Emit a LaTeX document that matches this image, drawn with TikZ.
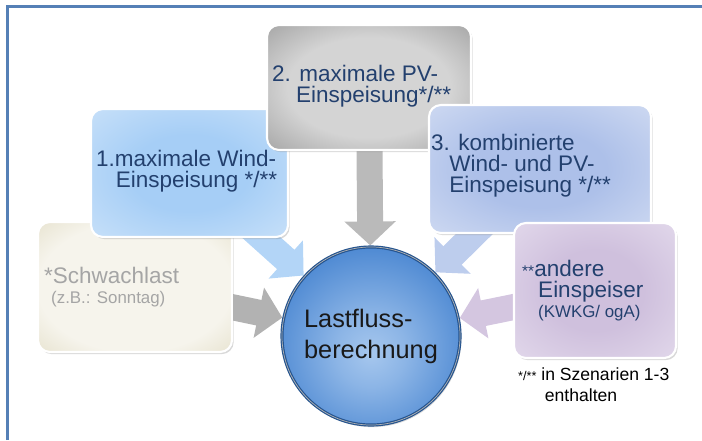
\documentclass[tikz,border=0pt]{standalone}
\usepackage{fontspec}
\setmainfont{Liberation Sans}
\usetikzlibrary{arrows.meta}
\usetikzlibrary{shadows}
\usetikzlibrary{backgrounds}
\definecolor{mframe}{HTML}{5580B6}
\definecolor{mtext}{HTML}{23406E}
\definecolor{mgraytext}{HTML}{A5A5A5}
\definecolor{mwindin}{HTML}{A6CEF6}
\definecolor{mwindout}{HTML}{DDECFB}
\definecolor{mpvin}{HTML}{D4D4D4}
\definecolor{mpvout}{HTML}{7C7C7C}
\definecolor{mcombiin}{HTML}{ADC0E9}
\definecolor{mcombiout}{HTML}{E4EAF7}
\definecolor{mlowin}{HTML}{F6F4EC}
\definecolor{mlowout}{HTML}{D5CEAD}
\definecolor{motherin}{HTML}{CFC0DD}
\definecolor{motherout}{HTML}{EEE8F4}
\definecolor{mhubin}{HTML}{A6C7EE}
\definecolor{mhubmid}{HTML}{4F8AD3}
\definecolor{mhubout}{HTML}{3069B7}
\definecolor{mhubrim}{HTML}{25548F}
\pgfdeclareradialshading{windglow}{\pgfpoint{0bp}{0bp}}{color(0bp)=(mwindin); color(15bp)=(mwindin); color(50bp)=(mwindout); color(72bp)=(mwindout)}
\pgfdeclareradialshading{pvglow}{\pgfpoint{0bp}{0bp}}{color(0bp)=(mpvin); color(20bp)=(mpvin); color(50bp)=(mpvout); color(72bp)=(mpvout)}
\pgfdeclareradialshading{combiglow}{\pgfpoint{0bp}{0bp}}{color(0bp)=(mcombiin); color(15bp)=(mcombiin); color(50bp)=(mcombiout); color(72bp)=(mcombiout)}
\pgfdeclareradialshading{lowglow}{\pgfpoint{0bp}{0bp}}{color(0bp)=(mlowin); color(25bp)=(mlowin); color(50bp)=(mlowout); color(72bp)=(mlowout)}
\pgfdeclareradialshading{otherglow}{\pgfpoint{0bp}{0bp}}{color(0bp)=(motherin); color(15bp)=(motherin); color(50bp)=(motherout); color(72bp)=(motherout)}
\pgfdeclareradialshading{hubglow}{\pgfpoint{0bp}{-5bp}}{color(0bp)=(mhubin); color(10bp)=(mhubin!70!mhubmid); color(28bp)=(mhubmid); color(44bp)=(mhubout); color(49bp)=(mhubout!80!mhubrim); color(50bp)=(mhubrim); color(72bp)=(mhubrim)}
\tikzset{box/.style = {rounded corners = 0.3cm, draw = white, line width = 1.5pt,
    drop shadow = {opacity = 0.3, shadow xshift = 1.2pt, shadow yshift = -1.5pt}}}
\tikzset{txt/.style = {anchor = west, align = left, inner sep = 0, text = mtext,
    font = \fontsize{16}{15}\selectfont}}
\tikzset{fat/.style = {line width = 0.65cm, -{Triangle[width = 1.25cm, length = 0.6cm]},
    shorten <= -0.5cm}}

\begin{document}
\begin{tikzpicture}[x=0.025cm, y=-0.025cm]
    \useasboundingbox (0, 0) rectangle (702, 440);

    \node (low) [box, shading = lowglow, minimum width = 4.85cm, minimum height = 3.25cm] at (135, 287) {};
    \node (lowtxt) [txt, text = mgraytext] at ([xshift = 0.175cm]low.west)
        {*Schwachlast\\[-1pt]{\fontsize{12}{13}\selectfont\hspace*{5pt}(z.B.: Sonntag)}};

    \node (wind) [box, shading = windglow, minimum width = 4.925cm, minimum height = 3.2cm] at (189.5, 173) {};
    \node (windtxt) [txt] at ([xshift = 0.15cm, yshift = 0.05cm]wind.west)
        {1.maximale Wind-\\\hspace*{14pt}Einspeisung */**};

    \node (pv) [box, shading = pvglow, minimum width = 5.1cm, minimum height = 3.125cm] at (369, 87.5) {};
    \node (pvtxt) [txt] at ([xshift = 0.15cm, yshift = 0.04cm]pv.west)
        {2. maximale PV-\\\hspace*{17pt}Einspeisung*/**};

    \node (combi) [box, shading = combiglow, minimum width = 5.55cm, minimum height = 3.2cm] at (540, 169) {};
    \node (combitxt) [txt] at ([xshift = 0.075cm, yshift = 0.075cm]combi.west)
        {3. kombinierte\\\hspace*{13pt}Wind- und PV-\\\hspace*{13pt}Einspeisung */**};

    \node (other) [box, shading = otherglow, minimum width = 4.05cm, minimum height = 3.375cm] at (595, 290.5) {};
    \node (othertxt) [txt] at ([xshift = 0.225cm]other.west)
        {{\fontsize{11}{11}\selectfont **}andere\\\hspace*{11.4pt}Einspeiser\\[-1pt]
        {\fontsize{12}{13}\selectfont\hspace*{11.4pt}(KWKG/ ogA)}};
    \node (note) [txt, anchor = north west, text = black, font = \fontsize{12.5}{15.5}\selectfont]
        at ([xshift = 0.125cm, yshift = -0.2cm]other.south west)
        {{\fontsize{9}{9}\selectfont */**} in Szenarien 1-3\\\hspace*{19pt}enthalten};

    \node (hub) [circle, minimum size = 4.45cm, shading = hubglow, draw = mhubrim, line width = 2.2pt,
        drop shadow = {opacity = 0.3, shadow xshift = 1pt, shadow yshift = -1.5pt},
        postaction = {draw = black!30, line width = 0.5pt},
        align = left, font = \fontsize{18}{22}\selectfont, text = black!90] at (371, 336)
        {Lastfluss-\\berechnung};

    \begin{scope}[on background layer]
        \draw [mframe, line width = 0.075cm] (7.5, 440) -- (7.5, 6.5) -- (702, 6.5);
        \draw [fat, black!27] (pv) -- (hub);
        \draw [fat, mwindin!85!white] (wind) -- (hub);
        \draw [fat, black!30] (low) -- (hub);
        \draw [fat, mcombiin!80!white] (combi) -- (hub);
        \draw [fat, motherin!90!white] (other) -- (hub);
    \end{scope}
\end{tikzpicture}
\end{document}
